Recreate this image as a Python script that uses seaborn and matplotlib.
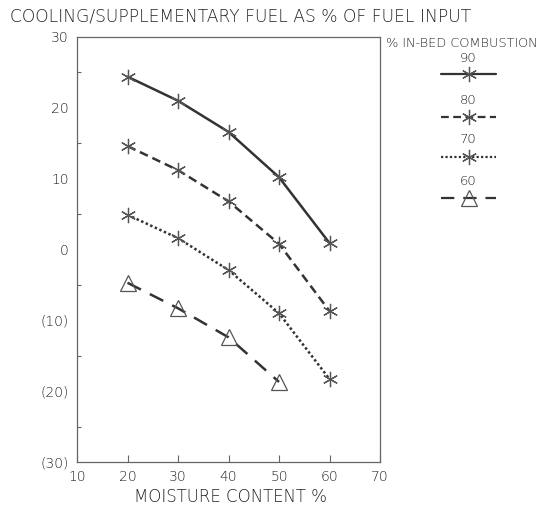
import matplotlib
matplotlib.use("Agg")
import matplotlib.pyplot as plt
from matplotlib.lines import Line2D
import seaborn as sns
import pandas as pd

# Moisture content (%) and cooling / supplementary fuel (% of fuel input)
moisture = [20, 30, 40, 50, 60]
bed_90 = [24.4, 21.0, 16.6, 10.2, 0.9]
bed_80 = [14.6, 11.2, 6.8, 0.8, -8.7]
bed_70 = [4.9, 1.6, -2.9, -9.0, -18.3]
bed_60 = [-4.7, -8.3, -12.4, -18.7]

series_labels = ["90", "80", "70", "60"]
y_ticks = [-30, -20, -10, 0, 10, 20, 30]
y_tick_labels = ["(30)", "(20)", "(10)", "0", "10", "20", "30"]
x_ticks = [10, 20, 30, 40, 50, 60, 70]

sns.set_theme(style="white")
plt.rcParams["font.family"] = ["DejaVu Sans"]
plt.rcParams["font.weight"] = "light"

ink = "#333333"
text_c = "#222222"

fig = plt.figure(figsize=(5.48, 5.11), dpi=100)
ax = fig.add_axes([0.1405, 0.0959, 0.553, 0.8317])

styles = [
    dict(linestyle="-", marker=(6, 2, 0), markersize=11),
    dict(linestyle=(0, (3.5, 2.0)), marker=(6, 2, 0), markersize=11),
    dict(linestyle=(0, (1.0, 1.0)), marker=(6, 2, 0), markersize=11),
    dict(linestyle=(0, (6.0, 4.0)), marker="^", markersize=12),
]
values = [bed_90, bed_80, bed_70, bed_60]

for vals, st in zip(values, styles):
    df = pd.DataFrame({"x": moisture[:len(vals)], "y": vals})
    sns.lineplot(data=df, x="x", y="y", ax=ax, color=ink, linewidth=1.8,
                 markeredgewidth=0.9, markeredgecolor="#555555",
                 markerfacecolor="none", **st)

ax.set_xlim(10, 70)
ax.set_ylim(-30, 30)
ax.set_xticks(x_ticks)
ax.set_xticklabels([str(t) for t in x_ticks])
ax.set_yticks(y_ticks)
ax.set_yticklabels(y_tick_labels)
ax.set_yticks([-25, -15, -5, 5, 15, 25], minor=True)
ax.tick_params(axis="both", which="major", direction="in", length=5,
               width=0.8, color="#666666", labelsize=10, labelcolor=text_c, pad=6)
ax.tick_params(axis="y", which="minor", direction="in", length=3,
               width=0.8, color="#666666", left=True)
ax.tick_params(axis="x", which="major", top=False, bottom=True)
for s in ax.spines.values():
    s.set_color("#666666")
    s.set_linewidth(0.9)

ax.set_xlabel("")
ax.set_ylabel("")
fig.text(0.42, 0.027, "MOISTURE CONTENT %", fontsize=12, color=text_c,
         ha="center", va="center")

fig.text(0.018, 0.968, "COOLING/SUPPLEMENTARY FUEL AS % OF FUEL INPUT",
         fontsize=12.3, color=text_c, ha="left", va="center")

# Legend drawn to the right of the axes
fig.text(0.705, 0.916, "% IN-BED COMBUSTION", fontsize=9.3, color=text_c,
         ha="left", va="center")
leg_x0, leg_x1 = 0.805, 0.905
label_y = [1 - 58 / 511, 1 - 100 / 511, 1 - 139 / 511, 1 - 181 / 511]
line_y = [1 - 74 / 511, 1 - 117 / 511, 1 - 157 / 511, 1 - 198 / 511]
for lab, ly, hy, st in zip(series_labels, label_y, line_y, styles):
    fig.text((leg_x0 + leg_x1) / 2, ly, lab, fontsize=9.5, color=text_c,
             ha="center", va="center")
    fig.add_artist(Line2D([leg_x0, leg_x1], [hy, hy], transform=fig.transFigure,
                          color=ink, linewidth=1.6, linestyle=st["linestyle"]))
    mk = {k: v for k, v in st.items() if k != "linestyle"}
    fig.add_artist(Line2D([(leg_x0 + leg_x1) / 2], [hy], transform=fig.transFigure,
                          linestyle="none", markeredgewidth=0.9,
                          markeredgecolor="#555555", markerfacecolor="none", **mk))

fig.savefig("out.png", dpi=100)
